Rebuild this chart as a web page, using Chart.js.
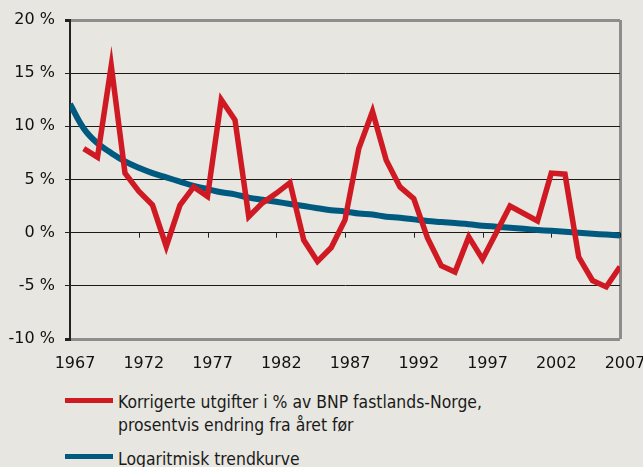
<!DOCTYPE html>
<html>
<head>
<meta charset="utf-8">
<script src="https://cdn.jsdelivr.net/npm/chart.js@4/dist/chart.umd.min.js"></script>
<style>
  html, body { margin: 0; padding: 0; background: #e7e6e0; }
  body { width: 643px; height: 467px; position: relative; overflow: hidden; }
  #wrap { position: absolute; left: 0; top: 0; width: 643px; height: 372px; }
  .swatch { position: absolute; left: 65px; width: 48px; height: 5px; }
  .ltext { position: absolute; left: 118px; font-family: "Liberation Sans Narrow", "DejaVu Sans Condensed", sans-serif;
           font-size: 17.4px; line-height: 23px; color: #1a1a1a; white-space: nowrap; }
</style>
</head>
<body>
<div id="wrap"><canvas id="chart" width="643" height="372"></canvas></div>
<div class="swatch" style="top:398px;background:#cf1a24;"></div>
<div class="ltext" style="top:391px;">Korrigerte utgifter i % av BNP fastlands-Norge,<br>prosentvis endring fra året før</div>
<div class="swatch" style="top:454px;background:#005a80;"></div>
<div class="ltext" style="top:448px;">Logaritmisk trendkurve</div>
<script>
const redYears = [1968, 1969, 1970, 1971, 1972, 1973, 1974, 1975, 1976, 1977,
  1978, 1979, 1980, 1981, 1982, 1983, 1984, 1985, 1986, 1987,
  1988, 1989, 1990, 1991, 1992, 1993, 1994, 1995, 1996, 1997,
  1998, 1999, 2000, 2001, 2002, 2003, 2004, 2005, 2006, 2007];
const redValues = [7.9, 7.1, 15.7, 5.6, 3.9, 2.6, -1.3, 2.6, 4.3, 3.4,
  12.5, 10.6, 1.5, 2.8, 3.7, 4.7, -0.7, -2.7, -1.4, 1.2,
  7.9, 11.4, 6.8, 4.3, 3.2, -0.5, -3.1, -3.7, -0.4, -2.5,
  0.0, 2.5, 1.8, 1.1, 5.6, 5.5, -2.3, -4.5, -5.1, -3.2];

const trendYears = [1967, 1968, 1969, 1970, 1971, 1972, 1973, 1974, 1975, 1976,
  1977, 1978, 1979, 1980, 1981, 1982, 1983, 1984, 1985, 1986,
  1987, 1988, 1989, 1990, 1991, 1992, 1993, 1994, 1995, 1996,
  1997, 1998, 1999, 2000, 2001, 2002, 2003, 2004, 2005, 2006, 2007];
const trendValues = [12.1, 9.8, 8.4, 7.5, 6.7, 6.1, 5.6, 5.2, 4.8, 4.4,
  4.1, 3.8, 3.6, 3.3, 3.1, 2.9, 2.7, 2.5, 2.3, 2.1,
  2.0, 1.8, 1.7, 1.5, 1.4, 1.25, 1.1, 1.0, 0.9, 0.8,
  0.66, 0.56, 0.46, 0.36, 0.26, 0.17, 0.08, -0.01, -0.1, -0.18, -0.27];

const xTicks = [1967, 1972, 1977, 1982, 1987, 1992, 1997, 2002, 2007];
const yTicks = [-10, -5, 0, 5, 10, 15, 20];

const redLabel = 'Korrigerte utgifter i % av BNP fastlands-Norge, prosentvis endring fra året før';
const trendLabel = 'Logaritmisk trendkurve';

const frameGray = '#8d8d8d';

// small tick marks where the category axis crosses 0 %
const zeroTicks = {
  id: 'zeroTicks',
  beforeDatasetsDraw(chart) {
    const { ctx, scales } = chart;
    const y0 = scales.y.getPixelForValue(0);
    ctx.save();
    ctx.strokeStyle = '#222';
    ctx.lineWidth = 1;
    xTicks.forEach(v => {
      const x = Math.round(scales.x.getPixelForValue(v)) + 0.5;
      ctx.beginPath();
      ctx.moveTo(x, y0);
      ctx.lineTo(x, y0 + 5);
      ctx.stroke();
    });
    ctx.restore();
  }
};

const ctx = document.getElementById('chart').getContext('2d');
new Chart(ctx, {
  type: 'line',
  data: {
    datasets: [{
      label: redLabel,
      data: redYears.map((y, i) => ({ x: y, y: redValues[i] })),
      borderColor: '#cf1a24',
      borderWidth: 5.5,
      pointRadius: 0,
      tension: 0,
      borderJoinStyle: 'miter'
    }, {
      label: trendLabel,
      data: trendYears.map((y, i) => ({ x: y, y: trendValues[i] })),
      borderColor: '#005a80',
      borderWidth: 6,
      pointRadius: 0,
      tension: 0.4
    }]
  },
  options: {
    responsive: false,
    animation: false,
    layout: { padding: { left: 0, right: 23, top: 20, bottom: 0 } },
    plugins: { legend: { display: false }, tooltip: { enabled: false } },
    scales: {
      x: {
        type: 'linear',
        min: 1967,
        max: 2007,
        afterBuildTicks: s => { s.ticks = xTicks.map(v => ({ value: v })); },
        afterFit: s => { s.height = 33; s.paddingLeft = 0; s.paddingRight = 0; },
        grid: {
          drawTicks: false,
          color: c => c.tick && c.tick.value === 2007 ? frameGray : 'rgba(0,0,0,0)',
          lineWidth: 3
        },
        border: { display: false },
        ticks: {
          color: '#111',
          font: { family: 'DejaVu Sans', size: 16 },
          padding: 15,
          labelOffset: 5,
          maxRotation: 0,
          autoSkip: false,
          callback: v => String(v)
        }
      },
      y: {
        min: -10,
        max: 20,
        afterBuildTicks: s => { s.ticks = yTicks.map(v => ({ value: v })); },
        afterFit: s => { s.width = 70; },
        grid: {
          color: c => (c.tick && (c.tick.value === 20 || c.tick.value === -10)) ? frameGray : '#1a1a1a',
          lineWidth: c => (c.tick && (c.tick.value === 20 || c.tick.value === -10)) ? 3 : 1,
          tickColor: '#222',
          tickLength: 5
        },
        border: { color: '#222', width: 2 },
        ticks: {
          color: '#111',
          font: { family: 'DejaVu Sans', size: 16 },
          padding: 10,
          callback: v => v + ' %'
        }
      }
    }
  },
  plugins: [zeroTicks]
});
</script>
</body>
</html>
